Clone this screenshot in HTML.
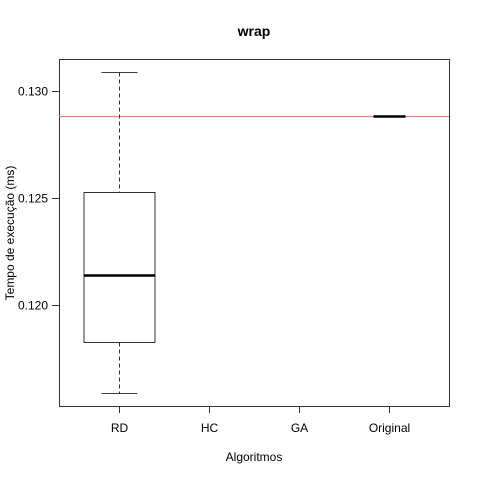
<!DOCTYPE html>
<html><head><meta charset="utf-8"><style>body{margin:0;background:#fff}svg{display:block}</style></head>
<body>
<svg id="chart" width="480" height="480" xmlns="http://www.w3.org/2000/svg" font-family="Liberation Sans, sans-serif">
<rect width="480" height="480" fill="#fff"/>
<text x="254" y="36" text-anchor="middle" font-weight="bold" font-size="14">wrap</text>
<text x="254" y="461" text-anchor="middle" font-size="12">Algoritmos</text>
<text transform="translate(14,233) rotate(-90)" text-anchor="middle" font-size="12">Tempo de execução (ms)</text>
<rect x="59.5" y="59.5" width="390" height="347" fill="none" stroke="#000" stroke-width="0.8"/>
<g id="marks"></g>
</svg>
<script>
const categories = ["RD", "HC", "GA", "Original"];
const whiskerHigh = [0.13089, null, null, 0.12883];
const q3 = [0.12528, null, null, 0.12883];
const medians = [0.12140, null, null, 0.12883];
const q1 = [0.11827, null, null, 0.12883];
const whiskerLow = [0.11589, null, null, 0.12883];
const refLine = [0.12883];
const yTicks = [0.120, 0.125, 0.130];
const yTickLabels = ["0.120", "0.125", "0.130"];

const NS = "http://www.w3.org/2000/svg";
const g = document.getElementById("marks");
function y(v){ return Math.round(91 + (0.130 - v) * 21400) + 0.5; }
function x(i){ return 119.5 + i * 90; }
function mk(tag, attrs){ const e = document.createElementNS(NS, tag); for (const k in attrs) e.setAttribute(k, attrs[k]); g.appendChild(e); return e; }

yTicks.forEach((t, i) => {
  const tk = mk("line", {x1:52, x2:59, y1:y(t), y2:y(t), stroke:"#000", "stroke-width":0.8});
  
  
  const lb = mk("text", {x:48, y:y(t)+4, "text-anchor":"end", "font-size":12});
  lb.textContent = yTickLabels[i];
  
  
});
categories.forEach((c, i) => {
  const tk = mk("line", {x1:x(i), x2:x(i), y1:406, y2:413, stroke:"#000", "stroke-width":0.8});
  
  
  const lb = mk("text", {x:x(i), y:432, "text-anchor":"middle", "font-size":12});
  lb.textContent = c;
  
  
});
const rl = mk("line", {x1:59, x2:449, y1:y(refLine[0]), y2:y(refLine[0]), stroke:"#f08080", "stroke-width":1.2});



categories.forEach((c, i) => {
  if (medians[i] === null) return;
  const cx = x(i);
  const flat = q3[i] === q1[i];
  const hw = flat ? 16 : 35.5;
  const wl = mk("line", {x1:cx, x2:cx, y1:y(whiskerHigh[i]), y2:y(q3[i]), stroke:"#000", "stroke-width":0.8, "stroke-dasharray":"4,3"});
  
  
  const wl2 = mk("line", {x1:cx, x2:cx, y1:y(q1[i]), y2:y(whiskerLow[i]), stroke:"#000", "stroke-width":0.8, "stroke-dasharray":"4,3"});
  
  
  if (!flat) {
    const cap1 = mk("line", {x1:cx-18, x2:cx+18, y1:y(whiskerHigh[i]), y2:y(whiskerHigh[i]), stroke:"#000", "stroke-width":0.8});
    
    
    const cap2 = mk("line", {x1:cx-18, x2:cx+18, y1:y(whiskerLow[i]), y2:y(whiskerLow[i]), stroke:"#000", "stroke-width":0.8});
    
    
    const box = mk("rect", {x:cx-hw, y:y(q3[i]), width:2*hw, height:y(q1[i])-y(q3[i]), fill:"none", stroke:"#000", "stroke-width":0.8});
    
    
  }
  const md = mk("line", {x1:cx-hw, x2:cx+hw, y1:y(medians[i]), y2:y(medians[i]), stroke:"#000", "stroke-width":2.5});
  
  
});
</script>
</body></html>
